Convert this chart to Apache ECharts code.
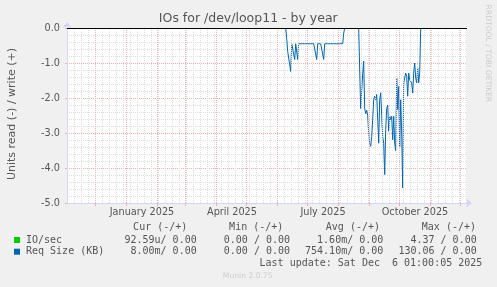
<!DOCTYPE html>
<html><head><meta charset="utf-8">
<script src="https://cdn.jsdelivr.net/npm/echarts@6/dist/echarts.min.js"></script>
<style>html,body{margin:0;padding:0;background:#f0f0f0}#c{width:497px;height:287px}</style>
</head><body><div id="c"></div>
<script>
// ---- data ----
const chartTitle = 'IOs for /dev/loop11 - by year';
const yAxisName = 'Units read (-) / write (+)';
const monthStarts = ['2024-12-01','2025-01-01','2025-02-01','2025-03-01','2025-04-01','2025-05-01','2025-06-01','2025-07-01','2025-08-01','2025-09-01','2025-10-01','2025-11-01','2025-12-01'];
const xLabelTexts = ['January 2025','April 2025','July 2025','October 2025'];
const xLabelDates = ['2025-01-16T07:00:00','2025-04-16T07:00:00','2025-07-16T07:00:00','2025-10-16T07:00:00'];
const xRange = ['2024-11-02T07:12:00','2025-12-07T07:12:00'];
const firstSunday = '2024-11-03';
const yTicks = [0,-1,-2,-3,-4,-5];

// Req Size (KB), read side (negative), daily values
const reqSizeJuneStart = '2025-06-09';
const reqSizeJune = [0,-0.3,-0.67,-0.67,-0.67,-1.24,-0.45,-0.45,-0.45,-0.9,-0.45,-0.45,-0.9,
  -0.45,-0.45,-0.45,-0.45,-0.45,-0.45,-0.45,-0.45,-0.45,-0.45,-0.45,-0.45,-0.45,-0.45,-0.45,-0.45,-0.45,-0.45,
  -0.9,-0.45,-0.45,-0.45,-0.45,-0.45,-0.45,-0.9,
  -0.45,-0.45,-0.45,-0.45,-0.45,-0.45,-0.45,-0.45,-0.45,-0.45,-0.45,-0.45,-0.45,-0.45,-0.45,-0.45,-0.45,-0.45,-0.45,
  -0.15,0];
const reqSizeAugStart = '2025-08-21';
const reqSizeAug = [0,-1.2,-2.3,-2.34,-1.3,-0.95,-2.3,-2.45,-2.35,-2.5,-3.0,-3.3,-3.38,-3.1,-2.6,-2.05,-1.95,-2.05,-1.9,
  -2.6,-3.29,-2.05,-1.85,-2.5,-3.1,-3.3,-4.19,-2.9,-2.3,-2.2,-2.95,-2.52,-2.62,-2.52,-3.19,-2.52,-3.29,-3.5,
  -1.43,-2.33,-1.67,-3.4,-2.05,-3.0,-4.57,-1.57,-1.43,-1.29,-1.38,-1.95,-1.29,-1.48,-1.43,-1.57,-1.86,-1.29,-1.0,
  -1.43,-1.57,-1.14,-1.57,-1.29,0];

const legendHeaders = ['Cur (-/+)','Min (-/+)','Avg (-/+)','Max (-/+)'];
const seriesNames = ['IO/sec','Req Size (KB)'];
const seriesColors = ['#00cc00','#0066b3'];
const ioSecStats = ['92.59u/ 0.00','0.00 / 0.00','1.60m/ 0.00','4.37 / 0.00'];
const reqSizeStats = ['8.00m/ 0.00','0.00 / 0.00','754.10m/ 0.00','130.06 / 0.00'];
const lastUpdate = 'Last update: Sat Dec  6 01:00:05 2025';
const footer = 'Munin 2.0.75';
const watermark = 'RRDTOOL / TOBI OETIKER';

// ---- build ----
const DAY = 86400000;
const T = s => Date.parse(s.length > 10 ? s + 'Z' : s + 'T00:00:00Z');
const xMin = T(xRange[0]), xMax = T(xRange[1]);
const labelVals = xLabelDates.map(T);
const sundays = [];
for (let t = T(firstSunday); t < xMax; t += 7 * DAY) sundays.push(t);

const data = [];
reqSizeJune.forEach((v, i) => data.push([T(reqSizeJuneStart) + i * DAY, v]));
data.push([T(reqSizeJuneStart) + reqSizeJune.length * DAY, null]);
reqSizeAug.forEach((v, i) => data.push([T(reqSizeAugStart) + i * DAY, v]));

const RED = '#eeb0b0', GREY = '#dedede', AXIS = '#cfd6f8', FONT = '#555';
const gridLines = sundays.map(t => ({xAxis: t, lineStyle: {color: GREY, type: [1, 1], width: 1}}))
  .concat(monthStarts.map(s => ({xAxis: T(s), lineStyle: {color: RED, type: [1, 1], width: 1}})));

const legendCols = [187.3, 283.3, 380, 476];
const valueCols = [196.7, 290, 383.3, 476.7];
const mono = '10px "DejaVu Sans Mono"';
const txt = (text, x, y, font, fill, align, rot) => ({
  type: 'text', x: x, y: y, rotation: rot || 0, silent: true,
  style: {text: text, font: font, fill: fill, align: align, textAlign: align, verticalAlign: 'middle', textVerticalAlign: 'middle'}
});
const graphics = [
  txt(chartTitle, 248.3, 19, '12.5px "DejaVu Sans"', FONT, 'center'),
  txt(yAxisName, 12, 114, '11px "DejaVu Sans"', FONT, 'center', Math.PI / 2),
  txt(watermark, 487.5, 53.5, '7.6px "DejaVu Sans"', '#cccccc', 'center', -Math.PI / 2),
  txt(footer, 247.7, 276, '7.6px "DejaVu Sans"', '#cccccc', 'center'),
  txt(lastUpdate, 482.3, 263.3, mono, FONT, 'right')
];
legendHeaders.forEach((h, i) => graphics.push(txt(h, legendCols[i], 227.3, mono, FONT, 'right')));
[ioSecStats, reqSizeStats].forEach((row, r) => {
  const y = 240 + r * 11.7;
  graphics.push({type: 'rect', silent: true, shape: {x: 14, y: y - 3, width: 6, height: 6}, style: {fill: seriesColors[r]}});
  graphics.push(txt(seriesNames[r], 26, y, mono, FONT, 'left'));
  row.forEach((v, i) => graphics.push(txt(v, valueCols[i], y, mono, FONT, 'right')));
});

const chart = echarts.init(document.getElementById('c'), null, {renderer: 'canvas'});
chart.setOption({
  backgroundColor: '#f0f0f0',
  animation: false,
  grid: {left: 67, top: 28, width: 400, height: 175, show: true, backgroundColor: '#ffffff', borderWidth: 0, containLabel: false, outerBoundsMode: 'none'},
  xAxis: {
    type: 'value', min: xMin, max: xMax, scale: true,
    axisLine: {show: true, onZero: false, lineStyle: {color: AXIS, width: 1}, symbol: ['none', 'arrow'], symbolSize: [7, 6], symbolOffset: [0, 5]},
    axisTick: {show: true, customValues: monthStarts.map(T), length: 3, lineStyle: {color: RED}},
    axisLabel: {show: true, customValues: labelVals, formatter: v => xLabelTexts[labelVals.indexOf(v)] || '', fontFamily: 'DejaVu Sans', fontSize: 9.7, color: FONT, margin: 4, hideOverlap: false},
    splitLine: {show: false}, minorTick: {show: false}, minorSplitLine: {show: false}
  },
  yAxis: {
    type: 'value', min: -5, max: 0, interval: 1,
    axisLine: {show: true, onZero: false, lineStyle: {color: AXIS, width: 1}, symbol: ['none', 'arrow'], symbolSize: [7, 6], symbolOffset: [0, 6]},
    axisTick: {show: true, length: 2, lineStyle: {color: RED}},
    axisLabel: {formatter: v => (yTicks.indexOf(v) >= 0 ? v.toFixed(1) : ''), fontFamily: 'DejaVu Sans', fontSize: 9.7, color: FONT, margin: 7},
    splitLine: {show: true, lineStyle: {color: RED, type: [1, 1], width: 1}},
    minorTick: {show: false, splitNumber: 5},
    minorSplitLine: {show: true, lineStyle: {color: GREY, type: [1, 1], width: 1}}
  },
  graphic: {elements: graphics},
  series: [
    {type: 'line', data: [], silent: true, z: 1,
     markLine: {silent: true, symbol: ['none', 'none'], label: {show: false}, animation: false, data: gridLines}},
    {type: 'line', name: seriesNames[1], data: data, showSymbol: false, symbol: 'none', connectNulls: false, z: 3,
     lineStyle: {color: seriesColors[1], width: 1}},
    {type: 'line', data: [], silent: true, z: 4,
     markLine: {silent: true, symbol: ['none', 'none'], label: {show: false}, animation: false,
       data: [{yAxis: 0, lineStyle: {color: '#000000', type: 'solid', width: 1}}]}}
  ]
});
</script></body></html>
